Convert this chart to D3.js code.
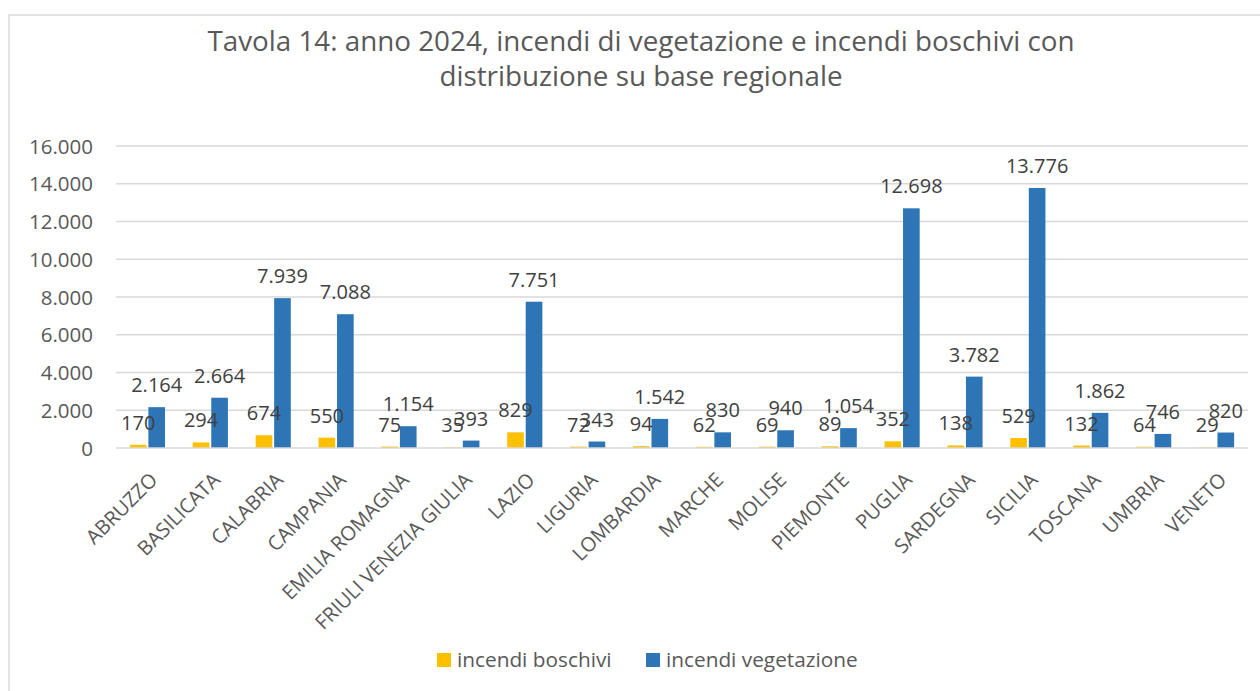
<!DOCTYPE html>
<html><head><meta charset="utf-8">
<script src="https://cdn.jsdelivr.net/npm/d3@7"></script>
<style>
html,body{margin:0;padding:0;background:#fff;}
svg{display:block;font-family:"Open Sans",sans-serif;}
</style></head>
<body>
<svg id="chart" width="1260" height="691"></svg>
<script>
const regions = ["ABRUZZO","BASILICATA","CALABRIA","CAMPANIA","EMILIA ROMAGNA","FRIULI VENEZIA GIULIA","LAZIO","LIGURIA","LOMBARDIA","MARCHE","MOLISE","PIEMONTE","PUGLIA","SARDEGNA","SICILIA","TOSCANA","UMBRIA","VENETO"];
const boschivi = [170,294,674,550,75,35,829,72,94,62,69,89,352,138,529,132,64,29];
const vegetazione = [2164,2664,7939,7088,1154,393,7751,343,1542,830,940,1054,12698,3782,13776,1862,746,820];
const yTicks = [0,2000,4000,6000,8000,10000,12000,14000,16000];
const seriesNames = ["incendi boschivi","incendi vegetazione"];
const colors = ["#FFC000","#2E75B6"];
const titleLines = ["Tavola 14: anno 2024, incendi di vegetazione e incendi boschivi con","distribuzione su base regionale"];

const fmt = d3.formatLocale({decimal:",",thousands:".",grouping:[3],currency:["€",""]}).format(",d");
const svg = d3.select("#chart");

// outer chart border
svg.append("rect").attr("x",9).attr("y",15).attr("width",1300).attr("height",720)
  .attr("fill","none").attr("stroke","#D9D9D9").attr("stroke-width",1.5);

// title
svg.append("g").selectAll("text").data(titleLines).join("text")
  .attr("x",641).attr("y",(d,i)=>51+i*35)
  .attr("text-anchor","middle").attr("fill","#595959").attr("font-size",27.8)
  .text(d=>d);

const x0 = d3.scaleBand().domain(regions).range([116,1248]).paddingInner(0).paddingOuter(0);
const x1 = d3.scaleBand().domain([0,1]).range([0,x0.bandwidth()]).paddingInner(0.1).paddingOuter(0.75);
const y = d3.scaleLinear().domain([0,16000]).range([448,146]);

// gridlines
svg.append("g").selectAll("line").data(yTicks.filter(t=>t>0)).join("line")
  .attr("x1",116).attr("x2",1248).attr("y1",d=>y(d)).attr("y2",d=>y(d))
  .attr("stroke","#D9D9D9").attr("stroke-width",1.5);

// y labels
const yAxis = d3.axisLeft(y).tickValues(yTicks).tickFormat(fmt).tickSize(0).tickPadding(0);
const ya = svg.append("g").attr("transform","translate(93,0)").call(yAxis);
ya.select(".domain").remove();
ya.selectAll("text").attr("fill","#595959").attr("font-size",20.5).attr("font-family","Open Sans").attr("dy","0.35em");

const series = [boschivi, vegetazione];
series.forEach((vals,si)=>{
  const g = svg.append("g");
  g.selectAll("rect").data(vals).join("rect")
    .attr("x",(d,i)=>x0(regions[i])+x1(si))
    .attr("width",x1.bandwidth())
    .attr("y",d=>y(d)).attr("height",d=>y(0)-y(d))
    .attr("fill",colors[si]);
});
// baseline
svg.append("line").attr("x1",116).attr("x2",1248).attr("y1",y(0)).attr("y2",y(0))
  .attr("stroke","#D9D9D9").attr("stroke-width",1.5);

// data labels
series.forEach((vals,si)=>{
  svg.append("g").selectAll("text").data(vals).join("text")
    .attr("x",(d,i)=>x0(regions[i])+x1(si)+x1.bandwidth()/2)
    .attr("y",d=>y(d)-22).attr("dy","0.35em")
    .attr("text-anchor","middle").attr("fill","#404040").attr("font-size",20)
    .text(d=>fmt(d));
});

// category labels
svg.append("g").selectAll("text").data(regions).join("text")
  .attr("transform",d=>`translate(${x0(d)+x0.bandwidth()/2+1},${y(0)+23}) rotate(-45)`)
  .attr("text-anchor","end").attr("dy","0.72em")
  .attr("fill","#595959").attr("font-size",20)
  .text(d=>d);

// legend
const leg = svg.append("g");
const legX = [437,646];
seriesNames.forEach((n,i)=>{
  leg.append("rect").attr("x",legX[i]).attr("y",653).attr("width",14).attr("height",14).attr("fill",colors[i]);
  leg.append("text").attr("x",legX[i]+20).attr("y",660).attr("dy","0.35em")
    .attr("fill","#595959").attr("font-size",20.8).text(n);
});
</script>
</body></html>
